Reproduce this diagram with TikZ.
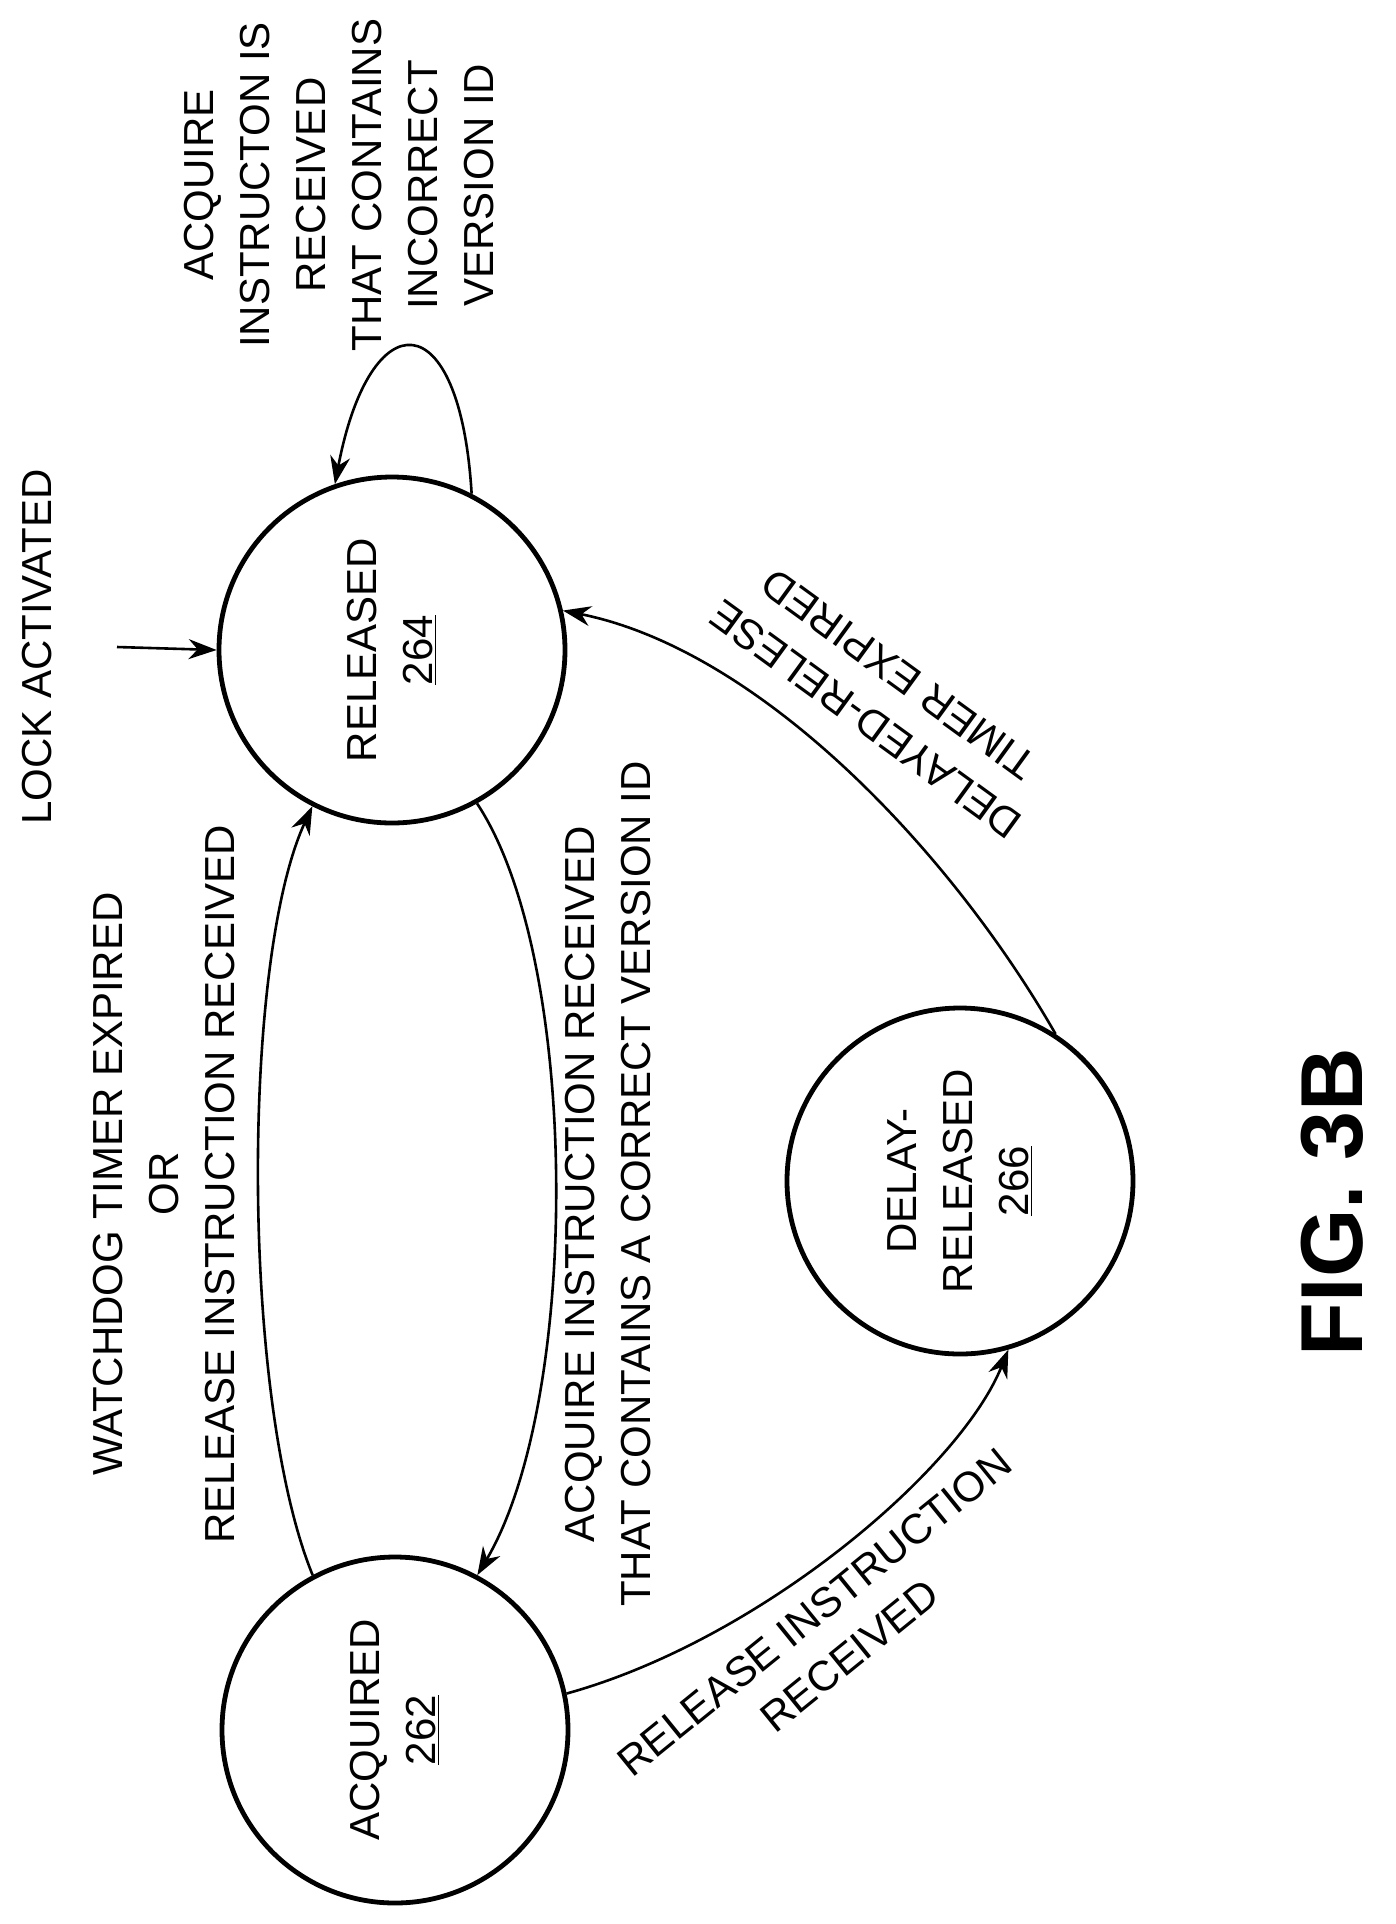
\documentclass[tikz,border=0pt]{standalone}
\usepackage{fontspec}
\setmainfont{Liberation Sans}
\usetikzlibrary{arrows.meta}
\begin{document}
\begin{tikzpicture}[x=0.5pt,y=-0.5pt,
  state/.style={circle,draw,line width=2.4pt,minimum size=173pt,inner sep=0pt},
  stxt/.style={align=center,font=\fontsize{21}{28}\selectfont,rotate=90},
  lbl/.style={align=center,font=\fontsize{21}{28}\selectfont},
  conn/.style={line width=1.3pt,-{Stealth[length=14pt,width=10pt]}}]
\useasboundingbox (0,0) rectangle (1396,1924);
\node[state] (rel) at (392,650) {};
\node[stxt] (relt) at (392,650) {RELEASED\\\underline{264}};
\node[state] (acq) at (395,1730) {};
\node[stxt] (acqt) at (395,1730) {ACQUIRED\\\underline{262}};
\node[state] (del) at (960,1181) {};
\node[stxt] (delt) at (960,1181) {DELAY-\\RELEASED\\\underline{266}};
\coordinate (start) at (117,647);
\draw[conn] (start) -- (rel.west);
\node[lbl,rotate=90] (la) at (37,647) {LOCK ACTIVATED};
\draw[conn] (rel.63) .. controls (460,300) and (370,300) .. (rel.109);
\node[lbl,rotate=90] (l1) at (339,185) {ACQUIRE\\INSTRUCTON IS\\RECEIVED\\THAT CONTAINS\\INCORRECT\\VERSION ID};
\draw[conn] (acq.118) .. controls (241,1400) and (241,960) .. (rel.243);
\node[lbl,rotate=90] (l2) at (164,1184) {WATCHDOG TIMER EXPIRED\\OR\\RELEASE INSTRUCTION RECEIVED};
\draw[conn] (rel.299) .. controls (581,960) and (581,1400) .. (acq.62);
\node[lbl,rotate=90] (l3) at (608,1184) {ACQUIRE INSTRUCTION RECEIVED\\THAT CONTAINS A CORRECT VERSION ID};
\draw[conn] (acq.12) .. controls (760,1640) and (960,1470) .. (del.286);
\node[lbl,rotate=39] (l4) at (832,1634) {RELEASE INSTRUCTION\\RECEIVED};
\draw[conn] (del.57) .. controls (950,850) and (760,650) .. (rel.13);
\node[lbl,rotate=144] (l5) at (882,697) {DELAYED-RELESE\\TIMER EXPIRED};
\node[font=\bfseries\fontsize{44}{50}\selectfont,rotate=90] (fig) at (1332,1202) {FIG. 3B};
\end{tikzpicture}
\end{document}
